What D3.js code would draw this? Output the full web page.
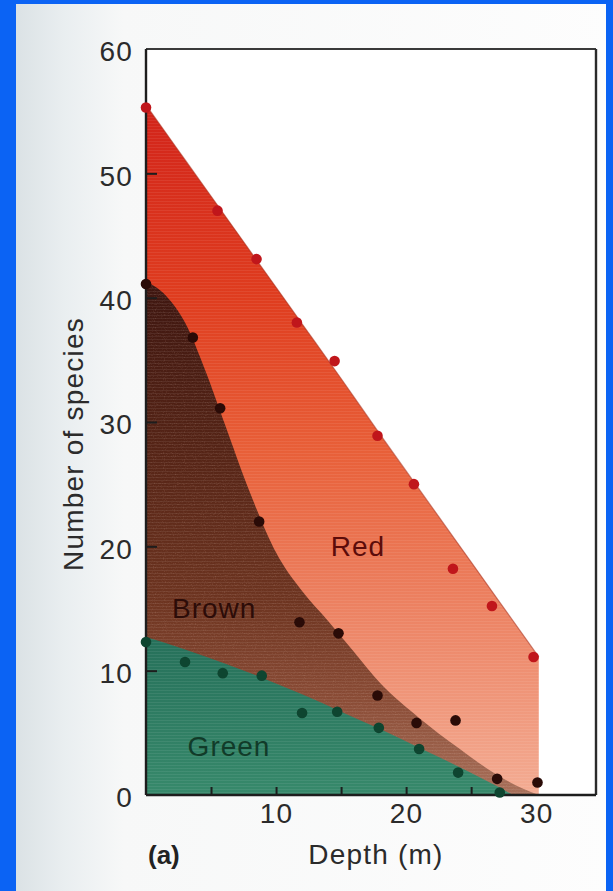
<!DOCTYPE html>
<html>
<head>
<meta charset="utf-8">
<script src="https://cdn.jsdelivr.net/npm/d3@7"></script>
<style>
  body { margin: 0; background: #ffffff; }
  svg { display: block; }
  text { font-family: "Liberation Sans", Arial, Helvetica, sans-serif; }
</style>
</head>
<body>
<svg id="chart" width="613" height="891"></svg>
<script>
// Observed number of seaweed species at each depth, per division
const redDepth   = [0, 5.5, 8.5, 11.6, 14.5, 17.8, 20.6, 23.6, 26.6, 29.8];
const redCount   = [55.3, 47.0, 43.1, 38.0, 34.9, 28.9, 25.0, 18.2, 15.2, 11.1];

const brownDepth = [0, 3.6, 5.7, 8.7, 11.8, 14.8, 17.8, 20.8, 23.8, 27.0, 30.1];
const brownCount = [41.1, 36.8, 31.1, 22.0, 13.9, 13.0, 8.0, 5.8, 6.0, 1.3, 1.0];

const greenDepth = [0, 3.0, 5.9, 8.9, 12.0, 14.7, 17.9, 21.0, 24.0, 27.2];
const greenCount = [12.3, 10.7, 9.8, 9.6, 6.6, 6.7, 5.4, 3.7, 1.8, 0.2];

// Fitted trend bands (upper edge of each shaded region)
const redBandDepth   = [0, 3, 6, 9, 12, 15, 18, 21, 24, 27, 30.2];
const redBandCount   = [55.5, 51.1, 46.7, 42.3, 37.9, 33.5, 29.0, 24.6, 20.2, 15.8, 11.1];
const brownBandDepth = [0, 1.5, 3, 4.5, 6, 8, 10, 12, 14, 16, 18, 21, 24, 27, 29, 30.2];
const brownBandCount = [41.3, 40.2, 38.0, 34.3, 30.0, 24.3, 19.5, 16.4, 14.0, 11.5, 9.0, 6.2, 3.8, 1.6, 0.5, 0];
const greenBandDepth = [0, 3, 6, 9, 12, 15, 18, 21, 24, 27, 28.2];
const greenBandCount = [12.7, 11.7, 10.6, 9.4, 8.1, 6.7, 5.3, 3.8, 2.3, 0.7, 0];

const bandNames  = ["Red", "Brown", "Green"];
const xTickMarks = [5, 10, 15, 20, 25];
const xTickText  = [10, 20, 30];
const yTickMarks = [10, 20, 30, 40, 50];
const yTickText  = [0, 10, 20, 30, 40, 50, 60];

const W = 613, H = 891;
const svg = d3.select("#chart");
const defs = svg.append("defs");

const x = d3.scaleLinear().domain([0, 34.6]).range([146, 596]);
const y = d3.scaleLinear().domain([0, 60]).range([795, 49]);

// ---- page backdrop: blue mat with the printed page inset ----
svg.append("rect").attr("width", W).attr("height", H).attr("fill", "#0b63f4");
const paper = defs.append("linearGradient").attr("id", "paper")
  .attr("gradientUnits", "userSpaceOnUse").attr("x1", 16).attr("x2", W).attr("y1", 0).attr("y2", 0);
[[0, "#dbe2e5"], [0.08, "#e9eef0"], [0.18, "#f7f8f8"], [1, "#fdfdfd"]]
  .forEach(([o, c]) => paper.append("stop").attr("offset", o).attr("stop-color", c));
svg.append("rect").attr("x", 16).attr("y", 4).attr("width", 606 - 16).attr("height", H - 4)
  .attr("fill", "url(#paper)");
svg.append("rect").attr("x", x(0)).attr("y", y(60))
  .attr("width", x(34.6) - x(0)).attr("height", y(0) - y(60)).attr("fill", "#ffffff");

// ---- fills ----
function vGrad(id, stops) {
  const g = defs.append("linearGradient").attr("id", id)
    .attr("gradientUnits", "userSpaceOnUse").attr("x1", 0).attr("x2", 0).attr("y1", 0).attr("y2", H);
  stops.forEach(([py, c]) => g.append("stop").attr("offset", py / H).attr("stop-color", c));
}
vGrad("gRed",   [[108, "#d2241a"], [300, "#df3d1f"], [450, "#e85f38"], [600, "#ec8060"], [790, "#f3ab92"]]);
vGrad("gBrown", [[280, "#3e1610"], [450, "#552416"], [600, "#6d3420"], [700, "#8a4c36"], [795, "#a8705a"]]);
vGrad("gGreen", [[637, "#26705a"], [795, "#37896b"]]);

// faint printed line screen
const pat = defs.append("pattern").attr("id", "screen").attr("patternUnits", "userSpaceOnUse")
  .attr("width", 6).attr("height", 3);
pat.append("rect").attr("width", 6).attr("height", 1).attr("fill", "#ffffff").attr("opacity", 0.07);

// grainy print texture for the brown band
const grain = defs.append("filter").attr("id", "grain").attr("x", 0).attr("y", 0)
  .attr("width", 1).attr("height", 1);
grain.append("feTurbulence").attr("type", "fractalNoise").attr("baseFrequency", 0.9)
  .attr("numOctaves", 1).attr("seed", 3).attr("result", "noise");
grain.append("feColorMatrix").attr("in", "noise").attr("type", "matrix")
  .attr("values", "0 0 0 0 0.75  0 0 0 0 0.45  0 0 0 0 0.35  0 0 0 1.6 -0.85").attr("result", "dots");
grain.append("feComposite").attr("in", "dots").attr("in2", "SourceGraphic").attr("operator", "in");

const area = d3.area().x(d => x(d[0])).y0(y(0)).y1(d => y(d[1])).curve(d3.curveMonotoneX);
const zipPts = (a, b) => a.map((v, i) => [v, b[i]]);

const bands = [
  { name: bandNames[0], pts: zipPts(redBandDepth, redBandCount), fill: "url(#gRed)" },
  { name: bandNames[1], pts: zipPts(brownBandDepth, brownBandCount), fill: "url(#gBrown)" },
  { name: bandNames[2], pts: zipPts(greenBandDepth, greenBandCount), fill: "url(#gGreen)" }
];
const gBands = svg.append("g");
bands.forEach((b, i) => {
  gBands.append("path").attr("d", area(b.pts)).attr("fill", b.fill);
  if (i === 1) {
    gBands.append("path").attr("d", area(b.pts)).attr("fill", "#000")
      .attr("filter", "url(#grain)").attr("opacity", 0.35);
  }
  gBands.append("path").attr("d", area(b.pts)).attr("fill", "url(#screen)");
});
// soft darker rim along the red band's upper edge
gBands.append("path")
  .attr("d", d3.line().x(d => x(d[0])).y(d => y(d[1])).curve(d3.curveMonotoneX)(bands[0].pts))
  .attr("fill", "none").attr("stroke", "#a5321f").attr("stroke-width", 1.2).attr("opacity", 0.55);

// ---- axes ----
const axisColor = "#1d1d1d";
const gx = svg.append("g").attr("transform", `translate(0,${y(0)})`)
  .call(d3.axisBottom(x).tickValues(xTickMarks).tickSize(-8).tickFormat(""));
const gxl = svg.append("g").attr("transform", `translate(0,${y(0)})`)
  .call(d3.axisBottom(x).tickValues(xTickText).tickSize(0).tickPadding(8));
const gy = svg.append("g").attr("transform", `translate(${x(0)},0)`)
  .call(d3.axisRight(y).tickValues(yTickMarks).tickSize(11).tickFormat(""));
const gyl = svg.append("g").attr("transform", `translate(${x(0)},0)`)
  .call(d3.axisLeft(y).tickValues(yTickText).tickSize(0).tickPadding(13));
[gx, gxl, gy, gyl].forEach(g => g.select(".domain").remove());
[gx, gy].forEach(g => g.selectAll(".tick line").attr("stroke", axisColor).attr("stroke-width", 2));
[gxl, gyl].forEach(g => g.selectAll(".tick text")
  .attr("font-size", 28).attr("letter-spacing", 1.2).attr("fill", "#2b2b2b")
  .style("font-family", "'Liberation Sans', Arial, sans-serif"));
gyl.selectAll(".tick text").attr("dy", "0.42em");

// frame
svg.append("line").attr("x1", x(0)).attr("x2", x(34.6)).attr("y1", y(60)).attr("y2", y(60))
  .attr("stroke", "#3a3a3a").attr("stroke-width", 2);
svg.append("line").attr("x1", x(34.6)).attr("x2", x(34.6)).attr("y1", y(60)).attr("y2", y(0))
  .attr("stroke", "#2a2a2a").attr("stroke-width", 2.4);
svg.append("line").attr("x1", x(0)).attr("x2", x(34.6)).attr("y1", y(0)).attr("y2", y(0))
  .attr("stroke", axisColor).attr("stroke-width", 2.4);
svg.append("line").attr("x1", x(0)).attr("x2", x(0)).attr("y1", y(60)).attr("y2", y(0))
  .attr("stroke", axisColor).attr("stroke-width", 2.4);

// ---- observations ----
const series = [
  { d: redDepth,   c: redCount,   color: "#c0161b" },
  { d: brownDepth, c: brownCount, color: "#2a0b07" },
  { d: greenDepth, c: greenCount, color: "#0e4530" }
];
series.forEach(s => {
  svg.append("g").selectAll("circle").data(zipPts(s.d, s.c)).join("circle")
    .attr("cx", d => x(d[0])).attr("cy", d => y(d[1])).attr("r", 5.3).attr("fill", s.color);
});

// ---- band names ----
const bandLabels = [
  { t: bandNames[0], d: 14.2, v: 19.2, color: "#5c0c0a" },
  { t: bandNames[1], d: 2.0,  v: 14.2, color: "#2c0c08" },
  { t: bandNames[2], d: 3.2,  v: 3.1,  color: "#113b29" }
];
svg.append("g").selectAll("text").data(bandLabels).join("text")
  .attr("x", d => x(d.d)).attr("y", d => y(d.v))
  .attr("font-size", 28).attr("letter-spacing", 1).attr("fill", d => d.color)
  .text(d => d.t);

// ---- titles ----
svg.append("text").attr("x", 376).attr("y", 864).attr("text-anchor", "middle")
  .attr("font-size", 28).attr("letter-spacing", 1.2).attr("fill", "#2b2b2b").text("Depth (m)");
svg.append("text").attr("x", 148).attr("y", 864)
  .attr("font-size", 26).attr("font-weight", "bold").attr("fill", "#222").text("(a)");
svg.append("text").attr("transform", "translate(83,444) rotate(-90)").attr("text-anchor", "middle")
  .attr("font-size", 28).attr("letter-spacing", 1.2).attr("fill", "#2b2b2b").text("Number of species");
</script>
</body>
</html>
